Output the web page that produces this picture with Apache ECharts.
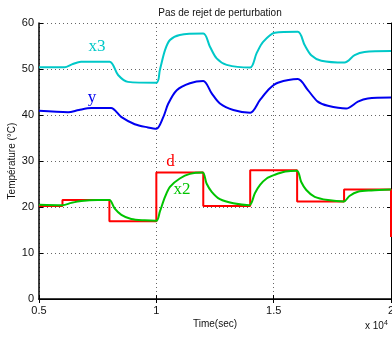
<!DOCTYPE html>
<html>
<head>
<meta charset="utf-8">
<script src="https://cdn.jsdelivr.net/npm/echarts@6/dist/echarts.min.js"></script>
<style>html,body{margin:0;padding:0;background:#fff}#c{width:392px;height:338px}</style>
</head>
<body>
<div id="c"></div>
<script>
var titleText = 'Pas de rejet de perturbation';
var xName = 'Time(sec)';
var yName = 'Température (°C)';
var xTicks = [5000, 10000, 15000, 20000];
var yTicks = [0, 10, 20, 30, 40, 50, 60];

// d : step disturbance (value held from each time to the next)
var dTimes  = [5000, 6000, 8000, 10000, 12000, 14000, 16000, 18000, 20000, 20000];
var dValues = [20.2, 21.5, 16.9, 27.5, 20.2, 28.0, 21.2, 23.8, 23.8, 13.5];

var x2Times  = [5000, 6000, 6380, 6800, 7500, 8000, 8220, 8510, 8930, 9500, 10000, 10150, 10370, 10580, 11000, 11430, 11970, 12140, 12360, 12710, 13280, 13960, 14200, 14420, 14700, 15050, 15500, 15990, 16170, 16390, 16750, 17310, 17990, 18230, 18590, 19160, 20000];
var x2Values = [20.5, 20.4, 20.9, 21.3, 21.5, 21.5, 19.7, 18.3, 17.4, 17.1, 17.0, 19.0, 22.2, 24.4, 26.2, 27.2, 27.5, 25.1, 23.3, 21.7, 20.8, 20.4, 23.0, 24.8, 26.2, 27.0, 27.7, 27.9, 25.5, 23.7, 22.2, 21.5, 21.2, 22.4, 23.3, 23.6, 23.8];

var yTimes  = [5000, 6240, 6700, 7230, 8070, 8500, 9080, 9640, 10000, 10300, 10510, 10870, 11430, 12000, 12360, 12710, 13280, 14000, 14420, 14840, 15180, 16030, 16460, 16880, 17310, 18090, 18590, 19010, 20000];
var yValues = [40.9, 40.6, 41.1, 41.5, 41.5, 39.6, 38.0, 37.3, 37.0, 39.6, 42.5, 45.4, 46.9, 47.4, 44.7, 42.5, 41.1, 40.5, 43.3, 45.8, 47.0, 47.8, 45.4, 42.9, 42.0, 41.4, 42.9, 43.6, 43.8];

var x3Times  = [5000, 6090, 6400, 6790, 8010, 8370, 8790, 10000, 10150, 10370, 10580, 11000, 12000, 12280, 12570, 13000, 13990, 14270, 14550, 15050, 16030, 16320, 16600, 17030, 18020, 18450, 18870, 20000];
var x3Values = [50.4, 50.4, 51.0, 51.6, 51.6, 48.7, 47.2, 47.0, 49.8, 54.1, 56.3, 57.4, 57.7, 54.9, 52.3, 50.9, 50.3, 53.4, 55.9, 57.9, 58.1, 55.2, 53.0, 51.8, 51.4, 53.0, 53.7, 53.9];

// curve labels (data coordinates)
var labelNames  = ['x3', 'y', 'd', 'x2'];
var labelTimes  = [7470, 7260, 10600, 11090];
var labelValues = [54.8, 43.9, 29.8, 23.9];

function pairs(t, v) { return t.map(function (x, i) { return [x, v[i]]; }); }
function lbl(i, color) {
  return {
    symbol: 'circle', symbolSize: 0, silent: true,
    data: [{ coord: [labelTimes[i], labelValues[i]], value: labelNames[i] }],
    label: { show: true, position: 'inside', formatter: labelNames[i], color: color,
             fontFamily: 'Liberation Serif', fontSize: 17 }
  };
}

var red = '#ff0000', green = '#00c400', blue = '#0000f0', cyan = '#00c8c8';
var chart = echarts.init(document.getElementById('c'), null, { renderer: 'canvas' });
var axisLbl = { color: '#111', fontFamily: 'Liberation Sans', fontSize: 11 };
chart.setOption({
  animation: false,
  backgroundColor: '#fff',
  title: { text: titleText, left: 215, top: 3, textAlign: 'center',
           textStyle: { fontFamily: 'Liberation Sans', fontSize: 10, fontWeight: 'normal', color: '#111' } },
  grid: { left: 39, top: 23, right: 1, bottom: 39, containLabel: false, outerBoundsMode: 'none' },
  xAxis: [{
    type: 'value', min: xTicks[0], max: xTicks[xTicks.length - 1], interval: 5000,
    name: xName, nameLocation: 'middle', nameGap: 20, nameMoveOverlap: false,
    nameTextStyle: { fontFamily: 'Liberation Sans', fontSize: 10, color: '#111' },
    axisLine: { lineStyle: { color: '#000', width: 1.5 } },
    axisTick: { inside: true, length: 4, lineStyle: { color: '#000' } },
    axisLabel: Object.assign({ margin: 6, formatter: function (v) { return String(v / 10000); } }, axisLbl),
    splitLine: { show: true, lineStyle: { type: [1, 3], color: '#666' } }
  }, {
    type: 'value', position: 'top', min: xTicks[0], max: xTicks[xTicks.length - 1], interval: 5000,
    axisLine: { lineStyle: { color: '#000', width: 1 } },
    axisTick: { inside: true, length: 4, lineStyle: { color: '#000' } },
    axisLabel: { show: false }, splitLine: { show: false }
  }],
  yAxis: [{
    type: 'value', min: yTicks[0], max: yTicks[yTicks.length - 1], interval: 10,
    name: yName, nameLocation: 'middle', nameGap: 22, nameMoveOverlap: false,
    nameTextStyle: { fontFamily: 'Liberation Sans', fontSize: 10, color: '#111' },
    axisLine: { lineStyle: { color: '#000', width: 1.5 } },
    axisTick: { inside: true, length: 4, lineStyle: { color: '#000' } },
    axisLabel: Object.assign({ margin: 5 }, axisLbl),
    splitLine: { show: true, lineStyle: { type: [1, 3], color: '#666' } }
  }, {
    type: 'value', position: 'right', min: yTicks[0], max: yTicks[yTicks.length - 1], interval: 10,
    axisLine: { show: true, lineStyle: { color: '#000', width: 1 } },
    axisTick: { show: true, inside: true, length: 4, lineStyle: { color: '#000' } },
    axisLabel: { show: false }, splitLine: { show: false }
  }],
  series: [
    { type: 'line', name: 'd', data: pairs(dTimes, dValues), step: 'end', showSymbol: false,
      lineStyle: { color: red, width: 2 }, markPoint: lbl(2, red), z: 2 },
    { type: 'line', name: 'x2', data: pairs(x2Times, x2Values), smooth: 0.3, showSymbol: false,
      lineStyle: { color: green, width: 2 }, markPoint: lbl(3, green), z: 3 },
    { type: 'line', name: 'y', data: pairs(yTimes, yValues), smooth: 0.3, showSymbol: false,
      lineStyle: { color: blue, width: 2 }, markPoint: lbl(1, blue), z: 3 },
    { type: 'line', name: 'x3', data: pairs(x3Times, x3Values), smooth: 0.3, showSymbol: false,
      lineStyle: { color: cyan, width: 2 }, markPoint: lbl(0, cyan), z: 3 }
  ],
  graphic: [{
    type: 'text', left: 365, top: 320,
    style: { text: 'x 10{s|4}', rich: { s: { fontSize: 7, verticalAlign: 'top', padding: [0, 0, 6, 0] } },
             fontFamily: 'Liberation Sans', fontSize: 10, fill: '#111' }
  }]
});
</script>
</body>
</html>
